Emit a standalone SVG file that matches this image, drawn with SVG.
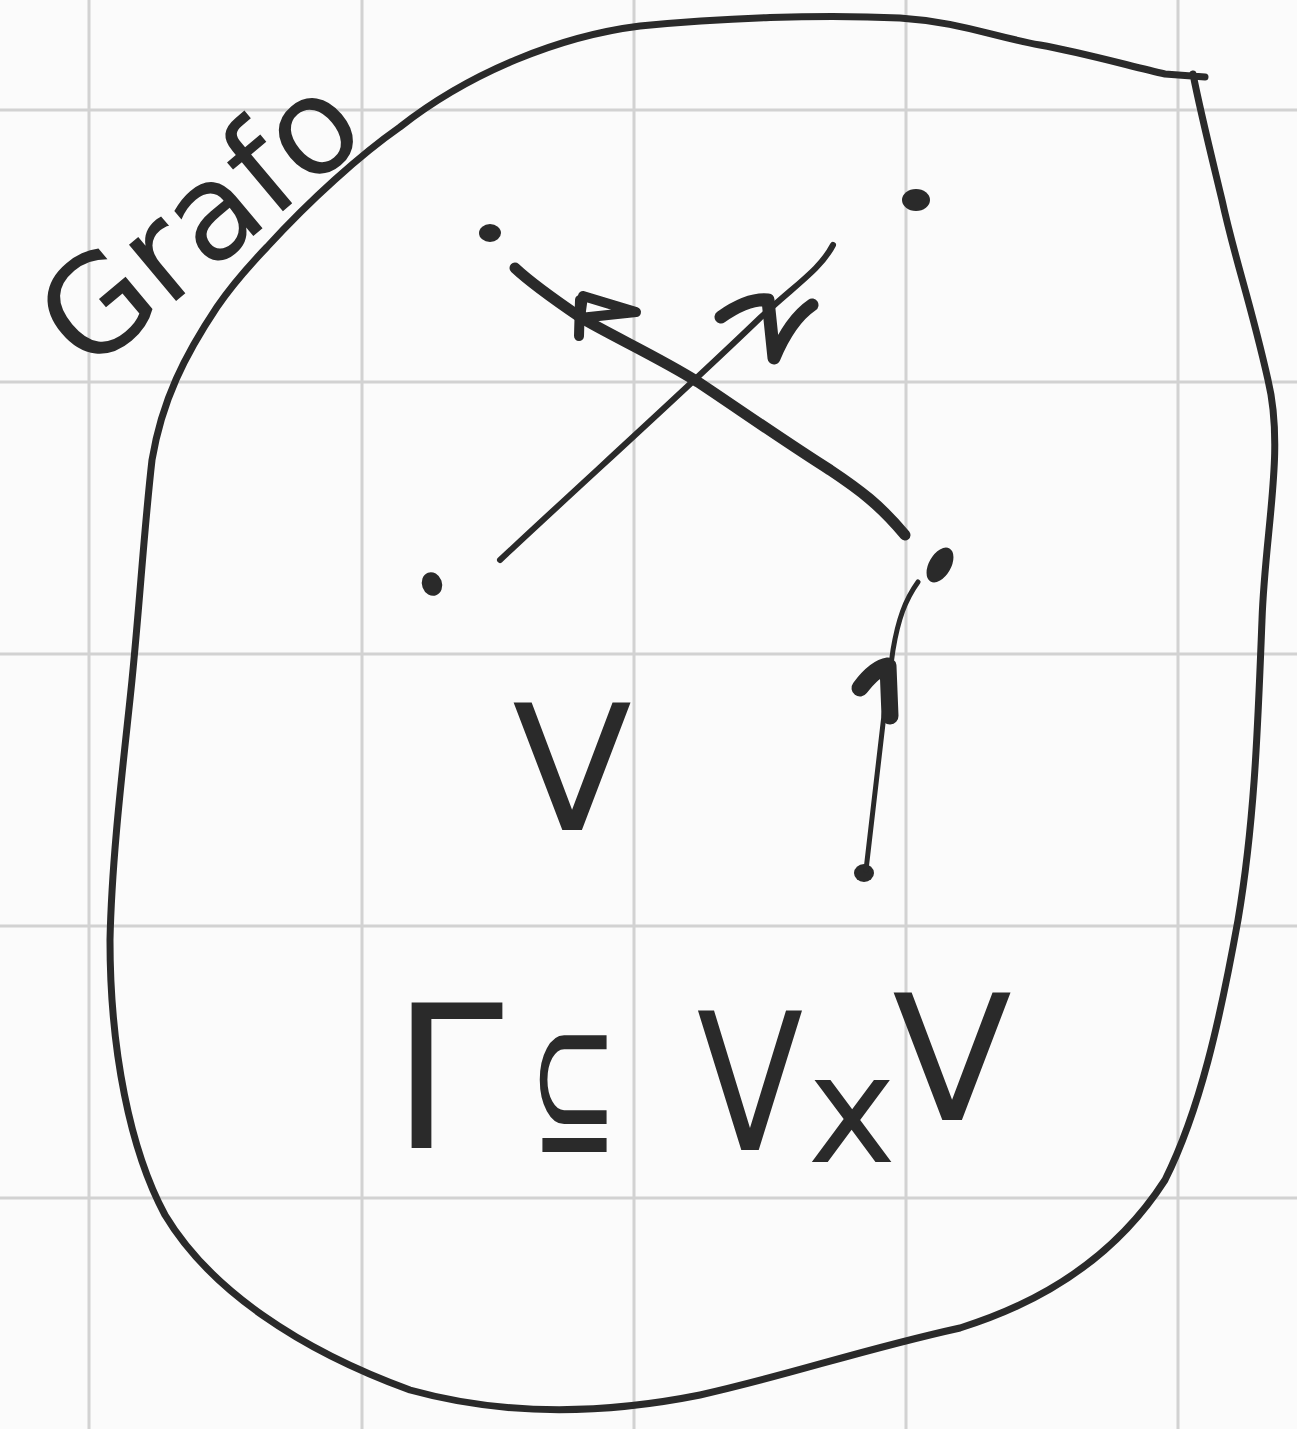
<svg xmlns="http://www.w3.org/2000/svg" width="1297" height="1429" viewBox="0 0 1297 1429">
<style>
.grid{stroke:#d2d2d2;stroke-width:3}
.ink{fill:none;stroke:#2a2a2a;stroke-linecap:round;stroke-linejoin:round}
.dot{fill:#2a2a2a}
.txt{fill:#2a2a2a;font-family:"DejaVu Sans","Liberation Sans",sans-serif}
</style>
<rect width="1297" height="1429" fill="#fbfbfb"/>
<g id="grid">
<path class="grid" d="M89,0V1429M362,0V1429M634,0V1429M906,0V1429M1178,0V1429M0,110H1297M0,382H1297M0,654H1297M0,926H1297M0,1198H1297"/>
</g>
<g id="graph-boundary">
<path class="ink" stroke-width="7" d="M1205,77 L1165,74 C1130,66 1080,52 1040,45 C990,36 960,22 900,18 C820,14 720,18 640,26 C560,36 470,72 400,127 C360,155 310,200 267,247 C245,270 230,288 217,307 C185,355 162,400 152,460 C144,530 140,600 132,680 C125,750 112,850 110,940 C110,1050 130,1150 165,1215 C210,1290 300,1350 410,1390 C500,1415 600,1415 700,1395 C790,1375 860,1350 960,1328 C1050,1300 1120,1250 1165,1180 C1200,1110 1220,1020 1238,920 C1255,820 1258,720 1262,620 C1265,530 1285,450 1268,380 C1250,300 1235,260 1222,200 C1210,150 1200,110 1193,74"/>
</g>
<g id="label-grafo">
<text class="txt" font-family="Liberation Sans, sans-serif" font-size="134" text-anchor="middle" transform="translate(200,222) rotate(-40)" x="0" y="45">Grafo</text>
</g>
<g id="node-a"><ellipse class="dot" cx="490" cy="233" rx="11" ry="9"/></g>
<g id="node-b"><ellipse class="dot" cx="916" cy="200" rx="14" ry="11"/></g>
<g id="node-c"><ellipse class="dot" cx="432" cy="584" rx="10" ry="12" transform="rotate(-20 432 584)"/></g>
<g id="node-d"><ellipse class="dot" cx="940" cy="565" rx="11" ry="19" transform="rotate(30 940 565)"/></g>
<g id="node-e"><ellipse class="dot" cx="864" cy="873" rx="10" ry="9"/></g>
<g id="connectors">
<path class="ink" stroke-width="11" d="M905,535 C880,505 860,490 830,470 C790,445 740,410 698,382 C660,358 610,335 580,317 C555,300 530,282 515,268"/>
<path class="ink" stroke-width="10" fill="#2a2a2a" d="M583,296 L636,312 L580,318 Z M580,300 L579,336"/>
<path class="ink" stroke-width="6" d="M500,560 C580,485 680,395 760,318 C795,285 820,270 833,245"/>
<path class="ink" stroke-width="13" d="M721,317 Q748,298 768,300 L774,358 Q790,320 812,305"/>
<path class="ink" stroke-width="5" d="M866,870 L884,715 L893,650 C898,620 905,600 918,582"/>
<path class="ink" stroke-width="17" d="M860,688 Q875,668 888,666 L890,716"/>
</g>
<g id="label-v">
<text class="txt" font-size="175" text-anchor="middle" x="572" y="830">V</text>
</g>
<g id="label-relation">
<text class="txt" font-size="200" x="392" y="1148">Γ</text>
<text class="txt" font-size="190" transform="translate(530,1152) scale(0.55,1)" x="0" y="0">⊆</text>
<text class="txt" font-size="190" text-anchor="middle" transform="translate(750,1150) scale(0.82,1)" x="0" y="0">V</text>
<text class="txt" font-size="150" text-anchor="middle" x="852" y="1162">x</text>
<text class="txt" font-size="175" text-anchor="middle" x="952" y="1120">V</text>
</g>
</svg>
